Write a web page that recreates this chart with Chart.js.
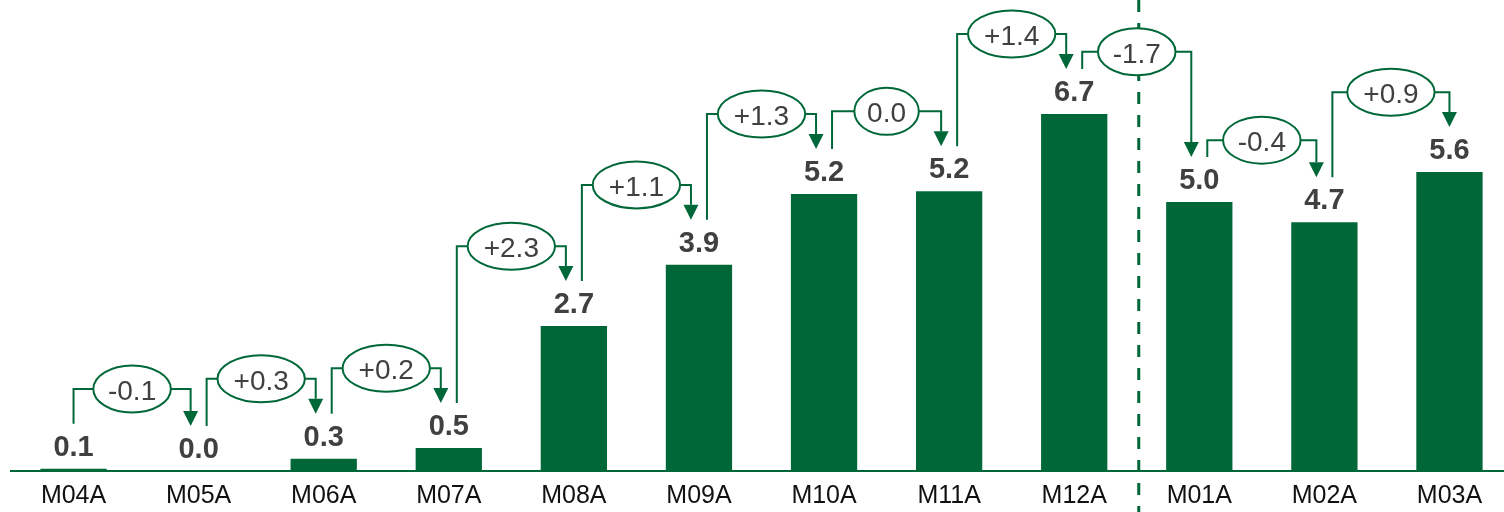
<!DOCTYPE html>
<html><head><meta charset="utf-8">
<script src="https://cdn.jsdelivr.net/npm/chart.js@4"></script>
<style>html,body{margin:0;padding:0;background:#fff;overflow:hidden;}#wrap{width:1512px;height:512px;position:relative;}</style>
</head><body><div id="wrap"><canvas id="c" width="1512" height="512"></canvas></div>
<script>
const categories = ['M04A','M05A','M06A','M07A','M08A','M09A','M10A','M11A','M12A','M01A','M02A','M03A'];
const values = [0.04, 0.0, 0.23, 0.43, 2.72, 3.87, 5.2, 5.25, 6.7, 5.05, 4.67, 5.61];
const valueLabels = ['0.1','0.0','0.3','0.5','2.7','3.9','5.2','5.2','6.7','5.0','4.7','5.6'];
const deltaLabels = ['-0.1','+0.3','+0.2','+2.3','+1.1','+1.3','0.0','+1.4','-1.7','-0.4','+0.9'];
const bracketLift = [1.5,1.5,1.5,1.5,1.5,1.5,1.5,1.5,1.17,1.16,1.5];
const dividerAfter = 8;

const GREEN = '#006838';
const FONT = '"Liberation Sans", Arial, sans-serif';

const annot = {
  id: 'annot',
  afterDatasetsDraw(chart) {
    const ctx = chart.ctx, xs = chart.scales.x, ys = chart.scales.y;
    const meta = chart.getDatasetMeta(0);
    const dx = (xs.getPixelForValue(dividerAfter) + xs.getPixelForValue(dividerAfter + 1)) / 2 + 2;
    ctx.save();
    ctx.strokeStyle = GREEN; ctx.lineWidth = 3; ctx.setLineDash([12, 11]);
    ctx.beginPath(); ctx.moveTo(dx, 0); ctx.lineTo(dx, chart.height); ctx.stroke();
    ctx.restore();
    ctx.save();
    ctx.font = 'bold 29px ' + FONT; ctx.fillStyle = '#404040';
    ctx.textAlign = 'center'; ctx.textBaseline = 'alphabetic';
    meta.data.forEach((bar, i) => ctx.fillText(valueLabels[i], bar.x, bar.y - 13));
    ctx.restore();
    const n = categories.length;
    for (let i = 0; i < deltaLabels.length; i++) {
      const a = meta.data[i], b = meta.data[i + 1];
      const sx = a.x + (i > 0 ? 8 : 0);
      const ex = b.x - (i + 1 < n - 1 ? 8 : 0);
      const sy = a.y - 45, ey = b.y - 45;
      const ly = ys.getPixelForValue(Math.max(values[i], values[i + 1]) + bracketLift[i]);
      ctx.save();
      ctx.strokeStyle = GREEN; ctx.fillStyle = GREEN; ctx.lineWidth = 2;
      ctx.beginPath();
      ctx.moveTo(sx, sy); ctx.lineTo(sx, ly); ctx.lineTo(ex, ly); ctx.lineTo(ex, ey - 15);
      ctx.stroke();
      ctx.beginPath();
      ctx.moveTo(ex - 7.5, ey - 15); ctx.lineTo(ex + 7.5, ey - 15); ctx.lineTo(ex, ey); ctx.closePath();
      ctx.fill();
      const cx = (sx + ex) / 2;
      ctx.font = '28px ' + FONT;
      const tw = ctx.measureText(deltaLabels[i]).width;
      const w = tw * 1.4 + 10, h = 47;
      ctx.beginPath();
      ctx.ellipse(cx, ly, w / 2, h / 2, 0, 0, Math.PI * 2);
      ctx.fillStyle = '#fff'; ctx.fill();
      ctx.strokeStyle = GREEN; ctx.lineWidth = 2; ctx.stroke();
      ctx.fillStyle = '#404040'; ctx.textAlign = 'center'; ctx.textBaseline = 'alphabetic';
      ctx.fillText(deltaLabels[i], cx, ly + 11);
      ctx.restore();
    }
  }
};

new Chart(document.getElementById('c'), {
  type: 'bar',
  data: {
    labels: categories,
    datasets: [{ data: values, backgroundColor: GREEN, borderWidth: 0, categoryPercentage: 1, barPercentage: 0.53 }]
  },
  options: {
    responsive: false, animation: false, devicePixelRatio: 1,
    layout: { padding: { left: 11, right: 0, top: 0, bottom: -9 } },
    plugins: { legend: { display: false }, tooltip: { enabled: false } },
    scales: {
      y: { display: false, min: 0, max: 8.84 },
      x: {
        grid: { display: false, drawTicks: false },
        border: { display: true, color: GREEN, width: 2 },
        ticks: { color: '#111', padding: 10, font: { family: FONT, size: 25 } }
      }
    }
  },
  plugins: [annot]
});
</script></body></html>
